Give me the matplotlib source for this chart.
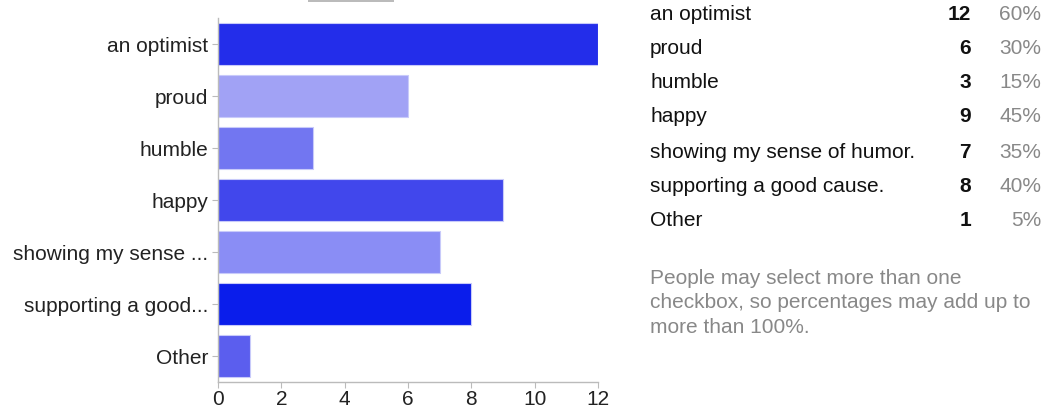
import matplotlib
matplotlib.use("Agg")
import matplotlib.pyplot as plt
from matplotlib.patches import Rectangle

plt.rcParams['font.family'] = ['Liberation Sans', 'DejaVu Sans']

categories = ["an optimist", "proud", "humble", "happy",
              "showing my sense of humor.", "supporting a good cause.", "Other"]
short_labels = ["an optimist", "proud", "humble", "happy",
                "showing my sense ...", "supporting a good...", "Other"]
counts = [12, 6, 3, 9, 7, 8, 1]
percents = ["60%", "30%", "15%", "45%", "35%", "40%", "5%"]
bar_colors = ["#232DEA", "#A1A2F5", "#7276F1", "#4147EC",
              "#8A8DF5", "#0A1DEB", "#5B5EEE"]
xticks = [0, 2, 4, 6, 8, 10, 12]
note = "People may select more than one\ncheckbox, so percentages may add up to\nmore than 100%."

W, H = 1045, 416
fig = plt.figure(figsize=(W / 100, H / 100), dpi=100)

# axes: x from 218 to 598 px, y from 18 to 382 px
ax = fig.add_axes([218 / W, 1 - 382 / H, (598 - 218) / W, (382 - 18) / H])
ypos = list(range(len(categories)))
ax.barh(ypos, counts, height=0.79, color=bar_colors,
        edgecolor="#C8CAFA", linewidth=0.8)
ax.set_ylim(len(categories) - 0.5, -0.5)
ax.set_xlim(0, 12)
ax.set_yticks(ypos)
ax.set_yticklabels(short_labels, fontsize=15, color="#222222")
ax.set_xticks(xticks)
ax.set_xticklabels([str(t) for t in xticks], fontsize=15, color="#222222")
for s in ["top", "right"]:
    ax.spines[s].set_visible(False)
for s in ["left", "bottom"]:
    ax.spines[s].set_color("#BBBBBB")
    ax.spines[s].set_linewidth(1.0)
ax.tick_params(axis="y", length=4, color="#BBBBBB", pad=3)
ax.tick_params(axis="x", length=4, color="#BBBBBB", pad=2)

# right-hand table
row_y = [14, 48, 83, 117, 152, 186, 221]
for lbl, c, p, yy in zip(categories, counts, percents, row_y):
    fy = 1 - yy / H
    fig.text(650 / W, fy, lbl, fontsize=15, color="#111111", va="center", ha="left")
    fig.text(971 / W, fy, str(c), fontsize=15, color="#111111", fontweight="bold",
             va="center", ha="right")
    fig.text(1041 / W, fy, p, fontsize=15, color="#888888", va="center", ha="right")

fig.text(650 / W, 1 - 269 / H, note, fontsize=15, color="#888888",
         va="top", ha="left", linespacing=1.36)

# remnant of header input box at very top
fig.patches.append(Rectangle((308 / W, 1 - 1.5 / H), (394 - 308) / W, 1.5 / H,
                             transform=fig.transFigure, color="#BBBBBB", lw=0))

fig.savefig("out.png", dpi=100)
